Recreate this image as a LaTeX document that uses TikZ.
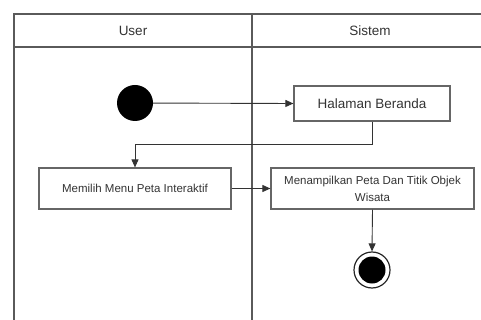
\documentclass[tikz,border=0pt]{standalone}
\usepackage{fontspec}
\setmainfont{Liberation Sans}
\usetikzlibrary{arrows.meta}
\definecolor{lane}{HTML}{5A5A5A}
\definecolor{boxline}{HTML}{666666}
\definecolor{txt}{HTML}{333333}
\begin{document}
\begin{tikzpicture}[x=1pt,y=-1pt,
  lanestyle/.style={draw=lane,line width=1.6pt},
  actbox/.style={draw=boxline,line width=1.2pt,rectangle,inner sep=0pt,text=txt,align=center},
  flow/.style={draw=black!80,line width=0.9pt,-{Triangle[length=8pt,width=7pt]}},
  headtxt/.style={text=txt,font=\fontsize{13.5}{16}\selectfont}
]
\useasboundingbox (0,0) rectangle (481,320);
\begin{scope}
\clip (0,0) rectangle (481,320);
\draw[lanestyle] (14,330) -- (14,14) -- (490,14);
\draw[lanestyle] (14,47) -- (490,47);
\draw[lanestyle] (252,14) -- (252,330);
\end{scope}
\node[headtxt] (hUser) at (133,31) {User};
\node[headtxt] (hSistem) at (370,31) {Sistem};

\node[circle,fill=black,minimum size=36pt,inner sep=0pt] (start) at (135,103) {};
\node[actbox,minimum width=156pt,minimum height=35pt,font=\fontsize{13.5}{16}\selectfont] (beranda) at (372,103.5) {Halaman Beranda};
\node[actbox,minimum width=192pt,minimum height=41pt,font=\fontsize{11.5}{16}\selectfont] (memilih) at (135,188.5) {Memilih Menu Peta Interaktif};
\node[actbox,minimum width=203pt,minimum height=41pt,font=\fontsize{11.5}{17}\selectfont] (tampil) at (372.5,188.5) {Menampilkan Peta Dan Titik Objek\\Wisata};
\node[circle,draw=black!85,line width=1.2pt,minimum size=36pt,inner sep=0pt,
  path picture={\fill[black] (path picture bounding box.center) circle (13.5pt);}] (end) at (372,270) {};

\draw[flow] (start) -- (beranda.west);
\draw[flow] (beranda.south) -- ++(0,23) -| (memilih.north);
\draw[flow] (memilih.east) -- (tampil.west);
\draw[flow] (tampil.south) -- (end.north);
\end{tikzpicture}
\end{document}
